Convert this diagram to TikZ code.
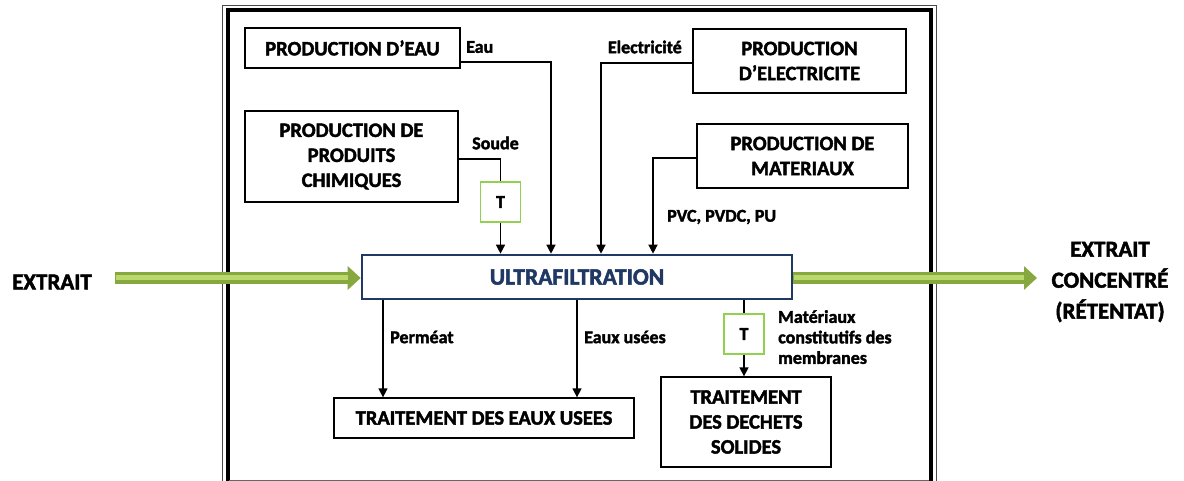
\documentclass[tikz,border=0pt]{standalone}
\usepackage{fontspec}
\setmainfont{Carlito}[BoldFeatures={FakeBold=2}]
\usetikzlibrary{arrows.meta,calc}
\definecolor{navy}{HTML}{1F3864}
\definecolor{tgreen}{HTML}{92D050}
\definecolor{gbase}{HTML}{86A83E}
\definecolor{glight}{HTML}{B9D96E}
\tikzset{
  box/.style={draw=black, line width=1.3pt, fill=white, align=center, inner sep=0pt,
    font=\bfseries\fontsize{20.5}{25}\selectfont},
  tbox/.style={draw=tgreen, line width=1.4pt, fill=white, minimum width=40pt, minimum height=40pt,
    inner sep=0pt, font=\bfseries\fontsize{18}{20}\selectfont},
  lbl/.style={anchor=west, inner sep=0pt, align=left, font=\bfseries\fontsize{18}{20.5}\selectfont},
  conn/.style={line width=1.3pt, draw=black},
  arr/.style={conn, -{Triangle[length=9pt,width=9pt]}},
  bigarrow/.style={line width=11.5pt, draw=gbase, -{Triangle[length=13pt,width=23pt]},
    postaction={draw=glight, line width=5pt, -, shorten >=13pt, shorten <=1pt}},
  bigtxt/.style={align=center, inner sep=0pt, font=\bfseries\fontsize{23}{31}\selectfont},
}
\begin{document}
\begin{tikzpicture}[x=1pt,y=-1pt]
\useasboundingbox (0,0) rectangle (1184,481);
\begin{scope}
\clip (0,0) rectangle (1184,481);
% frame
\draw[line width=0.9pt, black!70] (222,5) rectangle (936,520);
\draw[line width=4pt, black] (227.5,10.5) rectangle (930.8,515);
\draw[line width=1pt, black!60] (229,480.5) -- (929,480.5);
\end{scope}

% boxes
\node[box, minimum width=215pt, minimum height=40pt] (eau) at (352.5,48) {PRODUCTION D’EAU};
\node[box, minimum width=213pt, minimum height=64pt] (elec) at (799.5,61) {PRODUCTION\\D’ELECTRICITE};
\node[box, minimum width=213pt, minimum height=91pt] (chim) at (351.5,156.5) {PRODUCTION DE\\PRODUITS\\CHIMIQUES};
\node[box, minimum width=211pt, minimum height=64pt] (mat) at (802.5,156) {PRODUCTION DE\\MATERIAUX};
\node[draw=navy, line width=2.6pt, fill=white, minimum width=430pt, minimum height=44pt, inner sep=0pt,
  text=navy, font=\bfseries\fontsize{23.5}{25}\selectfont] (uf) at (577,277) {ULTRAFILTRATION};
\node[tbox] (t1) at (500.5,202) {T};
\node[tbox] (t2) at (744,334) {T};
\node[box, minimum width=300pt, minimum height=40pt] (teu) at (484,418) {TRAITEMENT DES EAUX USEES};
\node[box, minimum width=170pt, minimum height=90pt] (tds) at (746,422) {TRAITEMENT\\DES DECHETS\\SOLIDES};

% outside texts
\node[bigtxt] (ext) at (52,282) {EXTRAIT};
\node[bigtxt] (extc) at (1110,282) {EXTRAIT\\CONCENTRÉ\\(RÉTENTAT)};

% labels
\node[lbl] (leau) at (466,47) {Eau};
\node[lbl, anchor=east] (lelec) at (682,47) {Electricité};
\node[lbl] (lsoude) at (472,143) {Soude};
\node[lbl] (lpvc) at (667,217) {PVC, PVDC, PU};
\node[lbl] (lperm) at (390,337) {Perméat};
\node[lbl] (leaux) at (584,337) {Eaux usées};
\node[lbl, anchor=north west] (lmat) at (778,310) {Matériaux\\constitutifs des\\membranes};

% connectors in
\draw[arr] ([yshift=-14pt]eau.east) -| ([xshift=-26pt]uf.north);
\draw[arr] ([yshift=-2pt]elec.west) -| ([xshift=24pt]uf.north);
\draw[conn] ([yshift=-2.5pt]chim.east) -| (t1.north);
\draw[arr] (t1.south) -- (t1.south |- uf.north);
\draw[arr] ([yshift=-2pt]mat.west) -| ([xshift=76pt]uf.north);

% connectors out
\draw[arr] ([xshift=-194pt]uf.south) -- ([xshift=-101pt]teu.north);
\draw[arr] (uf.south) -- ([xshift=93pt]teu.north);
\draw[conn] ([xshift=167pt]uf.south) -- (t2.north);
\draw[arr] (t2.south) -- (t2.south |- tds.north);

% big green arrows
\draw[bigarrow] ([xshift=23pt]ext.east |- 0,278) -- ([yshift=-1pt]uf.west);
\draw[bigarrow] ([yshift=-1pt]uf.east) -- (1037,278);
\end{tikzpicture}
\end{document}
